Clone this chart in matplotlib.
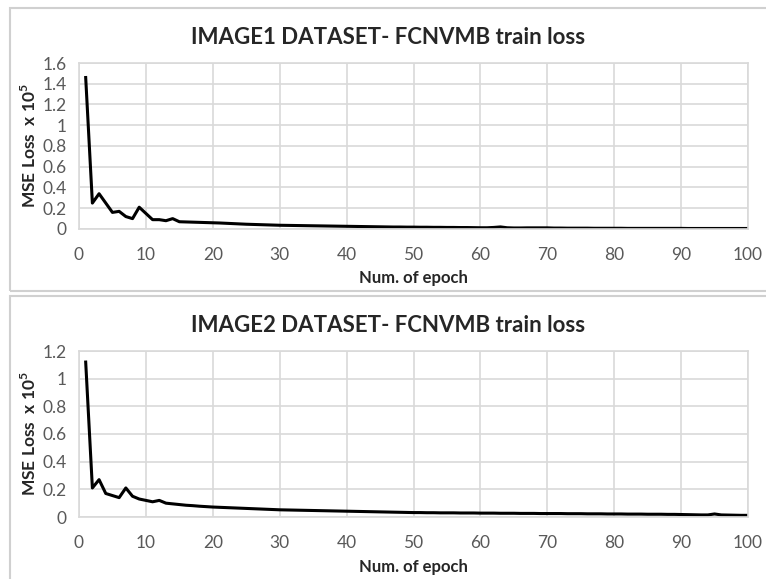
import matplotlib
matplotlib.use('Agg')
import matplotlib.pyplot as plt
from matplotlib.patches import Rectangle

plt.rcParams['font.family'] = ['Lato', 'DejaVu Sans']
plt.rcParams['mathtext.fontset'] = 'custom'
plt.rcParams['mathtext.rm'] = 'Lato'
plt.rcParams['mathtext.bf'] = 'Lato:bold'

# 数据：epoch 1..100
epochs = list(range(1, 101))

loss_image1 = [
    1.46, 0.25, 0.34, 0.25, 0.16, 0.17, 0.12, 0.10, 0.21, 0.15,
    0.09, 0.09, 0.08, 0.10, 0.07, 0.068, 0.066, 0.064, 0.062, 0.060,
    0.058, 0.055, 0.052, 0.049, 0.046, 0.044, 0.042, 0.040, 0.038, 0.036,
    0.035, 0.034, 0.033, 0.032, 0.031, 0.030, 0.029, 0.028, 0.027, 0.026,
    0.025, 0.024, 0.023, 0.022, 0.021, 0.020, 0.019, 0.019, 0.018, 0.018,
    0.017, 0.017, 0.016, 0.016, 0.015, 0.015, 0.014, 0.014, 0.013, 0.012,
    0.012, 0.015, 0.020, 0.012, 0.010, 0.010, 0.011, 0.011, 0.011, 0.011,
    0.009, 0.009, 0.008, 0.008, 0.008, 0.008, 0.007, 0.007, 0.007, 0.007,
    0.007, 0.006, 0.006, 0.006, 0.006, 0.006, 0.006, 0.006, 0.006, 0.006,
    0.005, 0.005, 0.005, 0.005, 0.005, 0.005, 0.005, 0.005, 0.005, 0.005,
]

loss_image2 = [
    1.12, 0.21, 0.27, 0.17, 0.155, 0.14, 0.21, 0.15, 0.13, 0.12,
    0.11, 0.12, 0.10, 0.095, 0.09, 0.085, 0.082, 0.078, 0.075, 0.072,
    0.070, 0.068, 0.066, 0.064, 0.062, 0.060, 0.058, 0.056, 0.054, 0.052,
    0.051, 0.050, 0.049, 0.048, 0.047, 0.046, 0.045, 0.044, 0.043, 0.042,
    0.041, 0.040, 0.039, 0.038, 0.037, 0.036, 0.035, 0.034, 0.033, 0.032,
    0.032, 0.031, 0.031, 0.030, 0.030, 0.030, 0.029, 0.029, 0.029, 0.028,
    0.028, 0.028, 0.027, 0.027, 0.027, 0.026, 0.026, 0.026, 0.025, 0.025,
    0.025, 0.025, 0.024, 0.024, 0.024, 0.023, 0.023, 0.023, 0.022, 0.022,
    0.022, 0.021, 0.021, 0.021, 0.020, 0.020, 0.020, 0.019, 0.019, 0.018,
    0.017, 0.016, 0.015, 0.015, 0.022, 0.015, 0.014, 0.013, 0.012, 0.012,
]

titles = ['IMAGE1 DATASET- FCNVMB train loss', 'IMAGE2 DATASET- FCNVMB train loss']
y_tops = [1.6, 1.2]
x_ticks = list(range(0, 101, 10))

W, H = 766, 579
fig = plt.figure(figsize=(W / 100, H / 100), dpi=100)

# 外框（Excel 图表框）
for (bx, by, bw, bh) in [(10, 8, 760, 283), (10, 296, 760, 290)]:
    fig.patches.append(Rectangle((bx / W, 1 - (by + bh) / H), bw / W, bh / H,
                                 transform=fig.transFigure, fill=False,
                                 edgecolor='#d0d0d0', linewidth=1.5))

# 轴区域：(top_px, bottom_px)，标题 y 像素
panels = [(63, 229), (351, 517)]
title_y = [38, 326]
grid_c = '#d9d9d9'
tick_c = '#595959'

for i, (top, bot) in enumerate(panels):
    ax = fig.add_axes([79 / W, 1 - bot / H, 669 / W, (bot - top) / H])
    data = loss_image1 if i == 0 else loss_image2
    ax.plot(epochs, data, color='black', linewidth=2.2, solid_joinstyle='round')
    ax.set_xlim(0, 100)
    ax.set_ylim(0, y_tops[i])
    ax.set_xticks(x_ticks)
    ax.set_yticks([round(v * 0.2, 1) for v in range(int(round(y_tops[i] / 0.2)) + 1)])
    ax.yaxis.set_major_formatter(plt.FuncFormatter(lambda v, p: '%g' % round(v, 1)))
    ax.grid(True, color=grid_c, linewidth=1.2)
    ax.set_axisbelow(True)
    for s in ax.spines.values():
        s.set_color(grid_c)
        s.set_linewidth(1.2)
    ax.tick_params(axis='x', length=0, labelsize=12.5, colors=tick_c, pad=13)
    ax.tick_params(axis='y', length=0, labelsize=12.5, colors=tick_c, pad=9)
    ax.set_xlabel('Num. of epoch', fontsize=12, fontweight='bold', color='#262626')
    ax.set_ylabel(r'MSE Loss  x 10$^{\mathbf{5}}$', fontsize=12.5, fontweight='bold',
                  color='#262626')
    ax.xaxis.set_label_coords(0.5, (bot - 278) / (bot - top) if i == 0 else (bot - 567) / (bot - top))
    ax.xaxis.label.set_va('center')
    ax.yaxis.set_label_coords((29 - 79) / 669, 0.5)
    ax.yaxis.label.set_va('center')
    # 标题居中于整个图表框
    fig.text(388 / W, 1 - title_y[i] / H, titles[i], fontsize=16, fontweight='bold',
             color='#262626', ha='center', va='center')

fig.savefig('out.png', dpi=100)
